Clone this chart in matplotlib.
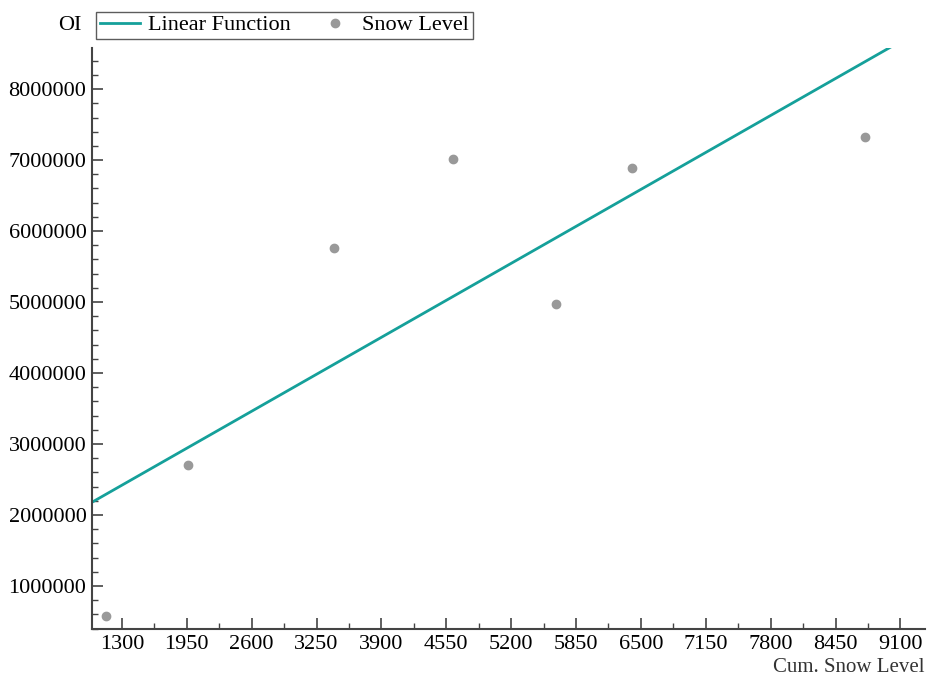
import numpy as np
import matplotlib
matplotlib.use("Agg")
import matplotlib.pyplot as plt
from matplotlib.ticker import MultipleLocator

plt.rcParams['font.family'] = ['Liberation Serif', 'DejaVu Serif']

# data
snow_x = [1140, 1960, 3430, 4620, 5650, 6410, 8750]
snow_y = [580000, 2700000, 5760000, 7010000, 4970000, 6890000, 7320000]
line_x = [1000, 9000]
line_y = [2180000, 8590000]
x_ticks = [1300, 1950, 2600, 3250, 3900, 4550, 5200, 5850, 6500, 7150, 7800, 8450, 9100]
y_ticks = [1000000, 2000000, 3000000, 4000000, 5000000, 6000000, 7000000, 8000000]

fig = plt.figure(figsize=(9.27, 6.78), dpi=100)
ax = fig.add_axes([0.0992, 0.0723, 0.899, 0.857])

ax.plot(line_x, line_y, color='#15a09a', lw=2, label='Linear Function')
ax.plot(snow_x, snow_y, 'o', color='#999999', ms=6, label='Snow Level')

ax.set_xlim(1000, 9350)
ax.set_ylim(395000, 8580000)
ax.set_xticks(x_ticks)
ax.set_yticks(y_ticks)
ax.set_xticklabels([str(v) for v in x_ticks])
ax.set_yticklabels([str(v) for v in y_ticks])
ax.xaxis.set_minor_locator(MultipleLocator(325))
ax.yaxis.set_minor_locator(MultipleLocator(200000))

for s in ['top', 'right']:
    ax.spines[s].set_visible(False)
for s in ['left', 'bottom']:
    ax.spines[s].set_color('#444444')
    ax.spines[s].set_linewidth(1.5)
ax.tick_params(which='both', direction='in', colors='#444444', labelcolor='black', labelsize=16)
ax.tick_params(which='major', length=8, width=1.2, pad=4)
ax.tick_params(which='minor', length=4.5, width=1)

fig.text(0.075, 0.962, 'OI', ha='center', va='center', fontsize=16)
fig.text(0.997, 0.002, 'Cum. Snow Level', ha='right', va='bottom', fontsize=15, color='#333333')

leg = ax.legend(ncol=2, loc='upper left', bbox_to_anchor=(0.104, 0.983),
                bbox_transform=fig.transFigure, fontsize=16, frameon=True,
                fancybox=False, borderpad=0.15, handlelength=1.8, columnspacing=1.1,
                handletextpad=0.35, borderaxespad=0)
leg.get_frame().set_edgecolor('#333333')
leg.get_frame().set_linewidth(1)

fig.savefig('out.png', dpi=100)
